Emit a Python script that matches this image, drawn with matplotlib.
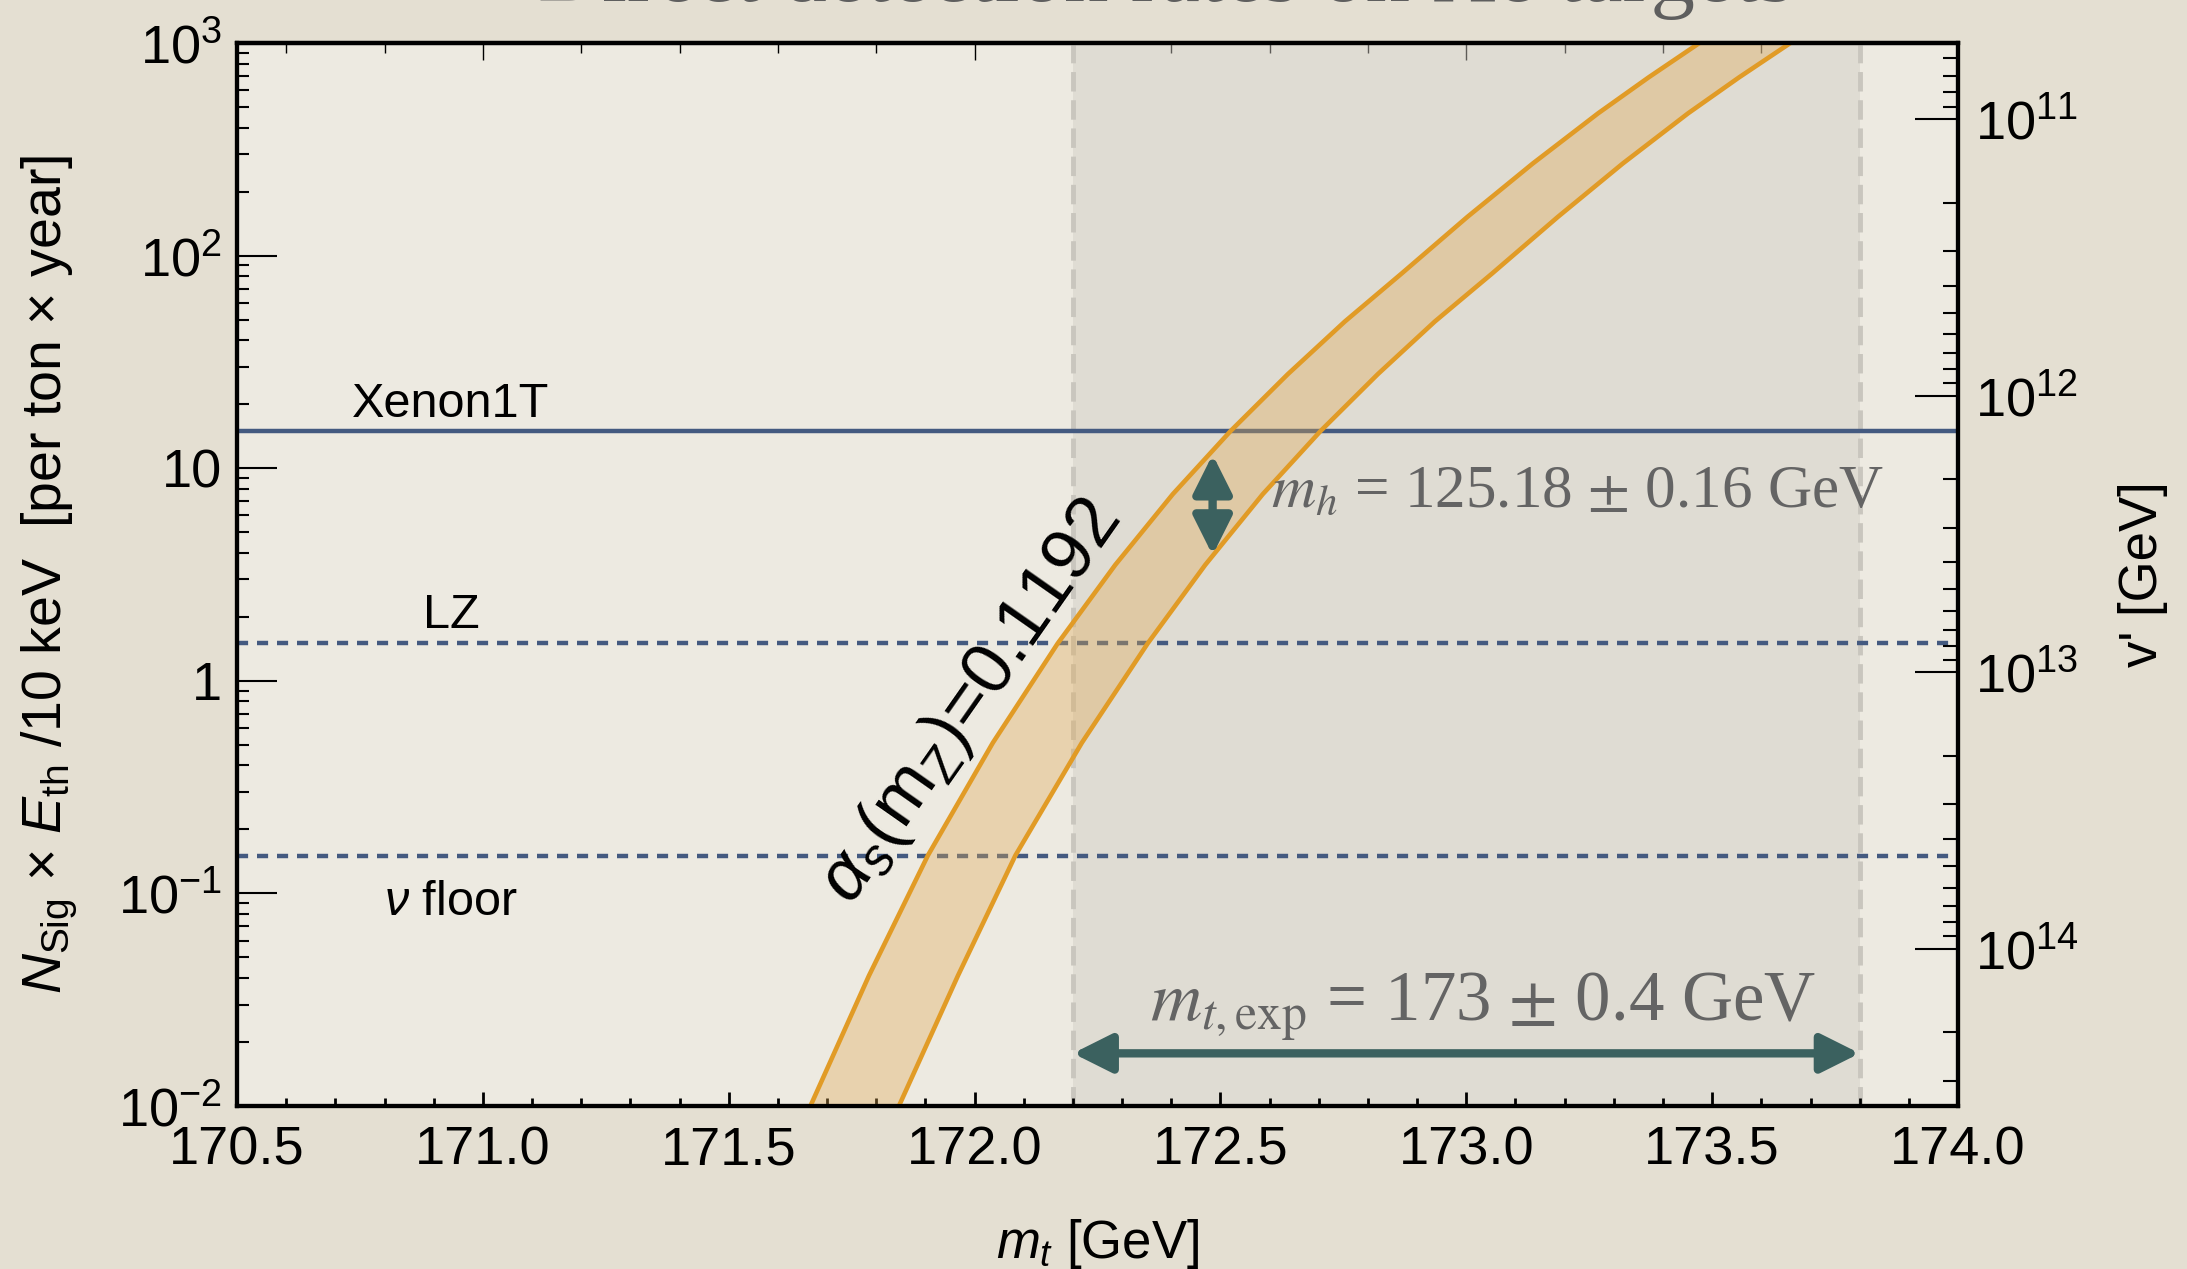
import numpy as np
import matplotlib
matplotlib.use('Agg')
import matplotlib.pyplot as plt
from matplotlib.ticker import FixedLocator, MultipleLocator, NullFormatter, LogLocator

plt.rcParams['font.family'] = ['Liberation Sans', 'DejaVu Sans']
plt.rcParams['mathtext.fontset'] = 'custom'
plt.rcParams['mathtext.rm'] = 'Liberation Sans'
plt.rcParams['mathtext.it'] = 'Liberation Sans:italic'
plt.rcParams['mathtext.bf'] = 'Liberation Sans:bold'

# edges of the alpha_s band: top mass [GeV] vs signal rate
mt_lo = [171.666, 171.785, 171.905, 172.037, 172.169, 172.286, 172.403, 172.521,
         172.637, 172.753, 172.869, 173.002, 173.135, 173.268, 173.371, 173.474]
mt_hi = [171.846, 171.966, 172.083, 172.218, 172.352, 172.469, 172.586, 172.704,
         172.820, 172.936, 173.053, 173.186, 173.318, 173.451, 173.555, 173.659]
n_edge = [0.010, 0.041, 0.151, 0.511, 1.50, 3.51, 7.55, 15.0,
          27.7, 49.0, 82.6, 152, 271, 467, 690, 1000]

# detector sensitivities
det_names = ['Xenon1T', 'LZ', r'$\nu$ floor']
det_rates = [15.0, 1.5, 0.15]
det_styles = ['-', (0, (2.5, 2)), (0, (2.5, 2))]
det_label_y = [17.5, 1.77, 0.079]

mt_range = (172.2, 173.8)        # experimental top mass window
mh_arrow = (3.9, 11.6)           # band width at fixed mt
mh_arrow_x = 172.484
vprime_lim = (3.70e14, 5.30e10)  # right axis, bottom to top

fig = plt.figure(figsize=(21.87, 12.69), dpi=100, facecolor='#E4DFD2')
ax = fig.add_axes([0.1084, 0.1284, 0.7869, 0.8377])
ax.set_facecolor('#EDEAE1')

ax.set_xlim(170.5, 174.0)
ax.set_yscale('log')
ax.set_ylim(1e-2, 1e3)

ax.axvspan(*mt_range, color='#CFCBC3', alpha=0.45, lw=0, zorder=0.5)
for xv in mt_range:
    ax.axvline(xv, color='#C9C6BE', lw=3.5, ls=(0, (4, 1.8)), zorder=1)

for name, rate, ls, ly in zip(det_names, det_rates, det_styles, det_label_y):
    ax.axhline(rate, color='#445A80', lw=3.2, ls=ls, zorder=2)
    ax.text(170.935, ly, name, ha='center', va='baseline', fontsize=35, zorder=6)

# band
ax.fill(np.concatenate([mt_lo, mt_hi[::-1]]), np.concatenate([n_edge, n_edge[::-1]]),
        color='#E0A850', alpha=0.35, lw=0, zorder=3)
ax.plot(mt_lo, n_edge, color='#E19B26', lw=3.3, zorder=4, solid_joinstyle='round')
ax.plot(mt_hi, n_edge, color='#E19B26', lw=3.3, zorder=4, solid_joinstyle='round')

ax.text(171.993, 0.787, r'$\alpha_s$(m$_\mathrm{Z}$)=0.1192', rotation=55,
        rotation_mode='anchor', ha='center', va='center', fontsize=52, zorder=6)

arrow_kw = dict(arrowstyle='<|-|>,head_length=0.9,head_width=0.45', color='#3B615F',
                lw=6, mutation_scale=26, shrinkA=0, shrinkB=0)
ax.annotate('', xy=(mh_arrow_x, mh_arrow[1]), xytext=(mh_arrow_x, mh_arrow[0]),
            arrowprops=arrow_kw, zorder=5)
ax.annotate('', xy=(mt_range[1], 0.0177), xytext=(mt_range[0], 0.0177),
            arrowprops=arrow_kw, zorder=5)

ax.text(172.602, 6.6, r'$m_h$ = 125.18 $\pm$ 0.16 GeV', ha='left', va='baseline',
        fontsize=44, color='#646464', family='Liberation Serif',
        math_fontfamily='stix', zorder=6)
ax.text(173.034, 0.0253, r'$m_{t,\mathrm{exp}}$ = 173 $\pm$ 0.4 GeV', ha='center',
        va='baseline', fontsize=51, color='#646464', family='Liberation Serif',
        math_fontfamily='stix', zorder=6)

# axes and ticks
ax.yaxis.set_major_locator(FixedLocator([1e-2, 1e-1, 1, 10, 1e2, 1e3]))
ax.set_yticklabels([r'$10^{-2}$', r'$10^{-1}$', '1', '10', r'$10^{2}$', r'$10^{3}$'])
ax.yaxis.set_minor_locator(LogLocator(base=10, subs=np.arange(2, 10)))
ax.yaxis.set_minor_formatter(NullFormatter())
ax.xaxis.set_major_locator(MultipleLocator(0.5))
ax.xaxis.set_minor_locator(MultipleLocator(0.1))
ax.xaxis.set_major_formatter(lambda v, p: f'{v:.1f}')

ax.tick_params(axis='y', which='major', direction='in', length=29, width=1.5,
               labelsize=39, pad=11, right=False)
ax.tick_params(axis='y', which='minor', direction='in', length=8.5, width=1.5, right=False)
ax.tick_params(axis='x', which='major', direction='in', length=10, width=2,
               labelsize=39, pad=14, top=False)
ax.tick_params(axis='x', which='minor', direction='in', length=6, width=2, top=False)
for s in ax.spines.values():
    s.set_linewidth(3)

top = ax.secondary_xaxis('top')
top.xaxis.set_major_locator(FixedLocator([171, 172, 173, 174]))
top.xaxis.set_minor_locator(MultipleLocator(0.2))
top.xaxis.set_major_formatter(NullFormatter())
top.tick_params(which='major', direction='in', length=12, width=1)
top.tick_params(which='minor', direction='in', length=7, width=1)
top.spines['top'].set_linewidth(3)

ax2 = ax.twinx()
ax2.set_yscale('log')
ax2.set_ylim(*vprime_lim)
ax2.yaxis.set_major_locator(LogLocator(base=10))
ax2.yaxis.set_minor_locator(LogLocator(base=10, subs=np.arange(2, 10)))
ax2.yaxis.set_minor_formatter(NullFormatter())
ax2.tick_params(which='major', direction='in', length=31, width=1.5, labelsize=39, pad=12)
ax2.tick_params(which='minor', direction='in', length=11, width=1.5)
for s in ax2.spines.values():
    s.set_linewidth(3)

ax.set_xlabel(r'$m_t$ [GeV]', fontsize=38)
ax.xaxis.set_label_coords(0.5, -0.104)
ax.set_ylabel(r'$N_\mathrm{Sig}$ × $E_\mathrm{th}$ /10 keV  [per ton × year]', fontsize=40)
ax.yaxis.set_label_coords(-0.091, 0.5)
ax2.set_ylabel("v' [GeV]", fontsize=38)
ax2.yaxis.set_label_coords(1.093, 0.5)

fig.text(0.533, 1 - 1 / 1269, 'Direct detection rates on Xe targets', ha='center',
         va='baseline', fontsize=64, color='#5E5E5E', family='Liberation Serif')

fig.savefig('out.png', dpi=100, facecolor=fig.get_facecolor())
